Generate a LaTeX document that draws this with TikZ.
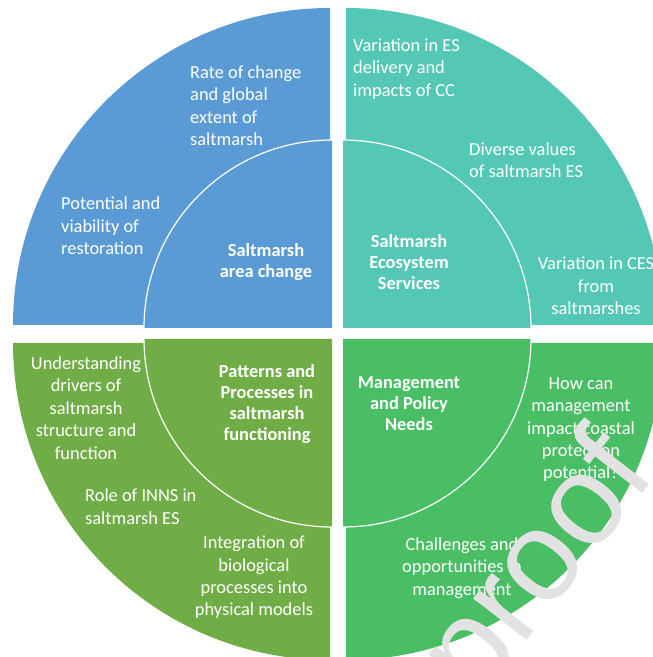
\documentclass[tikz,border=0pt]{standalone}
\usepackage{fontspec}
\setmainfont{Carlito}
\newfontfamily\wmfont{Liberation Sans}
\definecolor{cblue}{RGB}{91,155,213}
\definecolor{cteal}{RGB}{84,200,180}
\definecolor{colive}{RGB}{112,173,71}
\definecolor{cgreen}{RGB}{73,190,101}
\definecolor{wmark}{RGB}{226,226,226}
\begin{document}
\begin{tikzpicture}[x=1pt,y=1pt,
  outer/.style={font=\fontsize{18.4}{22.4}\selectfont, text=white, inner sep=0pt},
  title/.style={font=\fontsize{18.4}{21}\selectfont\bfseries, text=white, align=center, inner sep=0pt},
  inarc/.style={draw=white, line width=1.2pt}]
\useasboundingbox (0,0) rectangle (653,657);
\begin{scope}
\clip (0,0) rectangle (653,657);
% outer quadrants
\fill[cblue]  (330,332) -- (13,332) arc[start angle=180,end angle=90,radius=317] -- cycle;
\fill[cteal]  (346,332) -- (346,649) arc[start angle=90,end angle=0,radius=317] -- cycle;
\fill[colive] (330,314) -- (13,314) arc[start angle=180,end angle=270,radius=317] -- cycle;
\fill[cgreen] (346,314) -- (663,314) arc[start angle=0,end angle=-90,radius=317] -- cycle;
% inner quadrants
\fill[cblue]  (332,329) -- (144,329) arc[start angle=180,end angle=90,radius=188] -- cycle;
\fill[cteal]  (343,329) -- (343,517) arc[start angle=90,end angle=0,radius=188] -- cycle;
\fill[colive] (332,318) -- (144,318) arc[start angle=180,end angle=270,radius=188] -- cycle;
\fill[cgreen] (343,318) -- (531,318) arc[start angle=0,end angle=-90,radius=188] -- cycle;
\draw[inarc] (144,329) arc[start angle=180,end angle=90,radius=188];
\draw[inarc] (343,517) arc[start angle=90,end angle=0,radius=188];
\draw[inarc] (144,318) arc[start angle=180,end angle=270,radius=188];
\draw[inarc] (531,318) arc[start angle=0,end angle=-90,radius=188];
% titles
\node[title] (t1) at (266,394.5) {Saltmarsh\\area change};
\node[title] (t2) at (409,395) {Saltmarsh\\Ecosystem\\Services};
\node[title] (t3) at (267,253) {Patterns and\\Processes in\\saltmarsh\\functioning};
\node[title] (t4) at (409,253) {Management\\and Policy\\Needs};
% outer texts
\node[outer, align=left, anchor=west] (a1) at (190,551.5) {Rate of change\\and global\\extent of\\saltmarsh};
\node[outer, align=left, anchor=west] (a2) at (61,431) {Potential and\\viability of\\restoration};
\node[outer, align=left, anchor=west] (b1) at (353,588) {Variation in ES\\delivery and\\impacts of CC};
\node[outer, align=left, anchor=west] (b2) at (469,497) {Diverse values\\of saltmarsh ES};
\node[outer, align=center] (b3) at (596,371) {Variation in CES\\from\\saltmarshes};
\node[outer, align=center] (c1) at (86,249) {Understanding\\drivers of\\saltmarsh\\structure and\\function};
\node[outer, align=left, anchor=west] (c2) at (85,150.5) {Role of INNS in\\saltmarsh ES};
\node[outer, align=center] (c3) at (254,79.5) {Integration of\\biological\\processes into\\physical models};
\node[outer, align=center] (d1) at (581,227.4) {How can\\management\\impact coastal\\protection\\potential?};
\node[outer, align=center] (d2) at (462,89) {Challenges and\\opportunities in\\management};
% watermark
\node[text=wmark, font=\fontsize{128}{128}\selectfont\wmfont, inner sep=0pt, anchor=base west, rotate=52] (wm) at (477.5,-47.1) {proof};
\end{scope}
\end{tikzpicture}
\end{document}
